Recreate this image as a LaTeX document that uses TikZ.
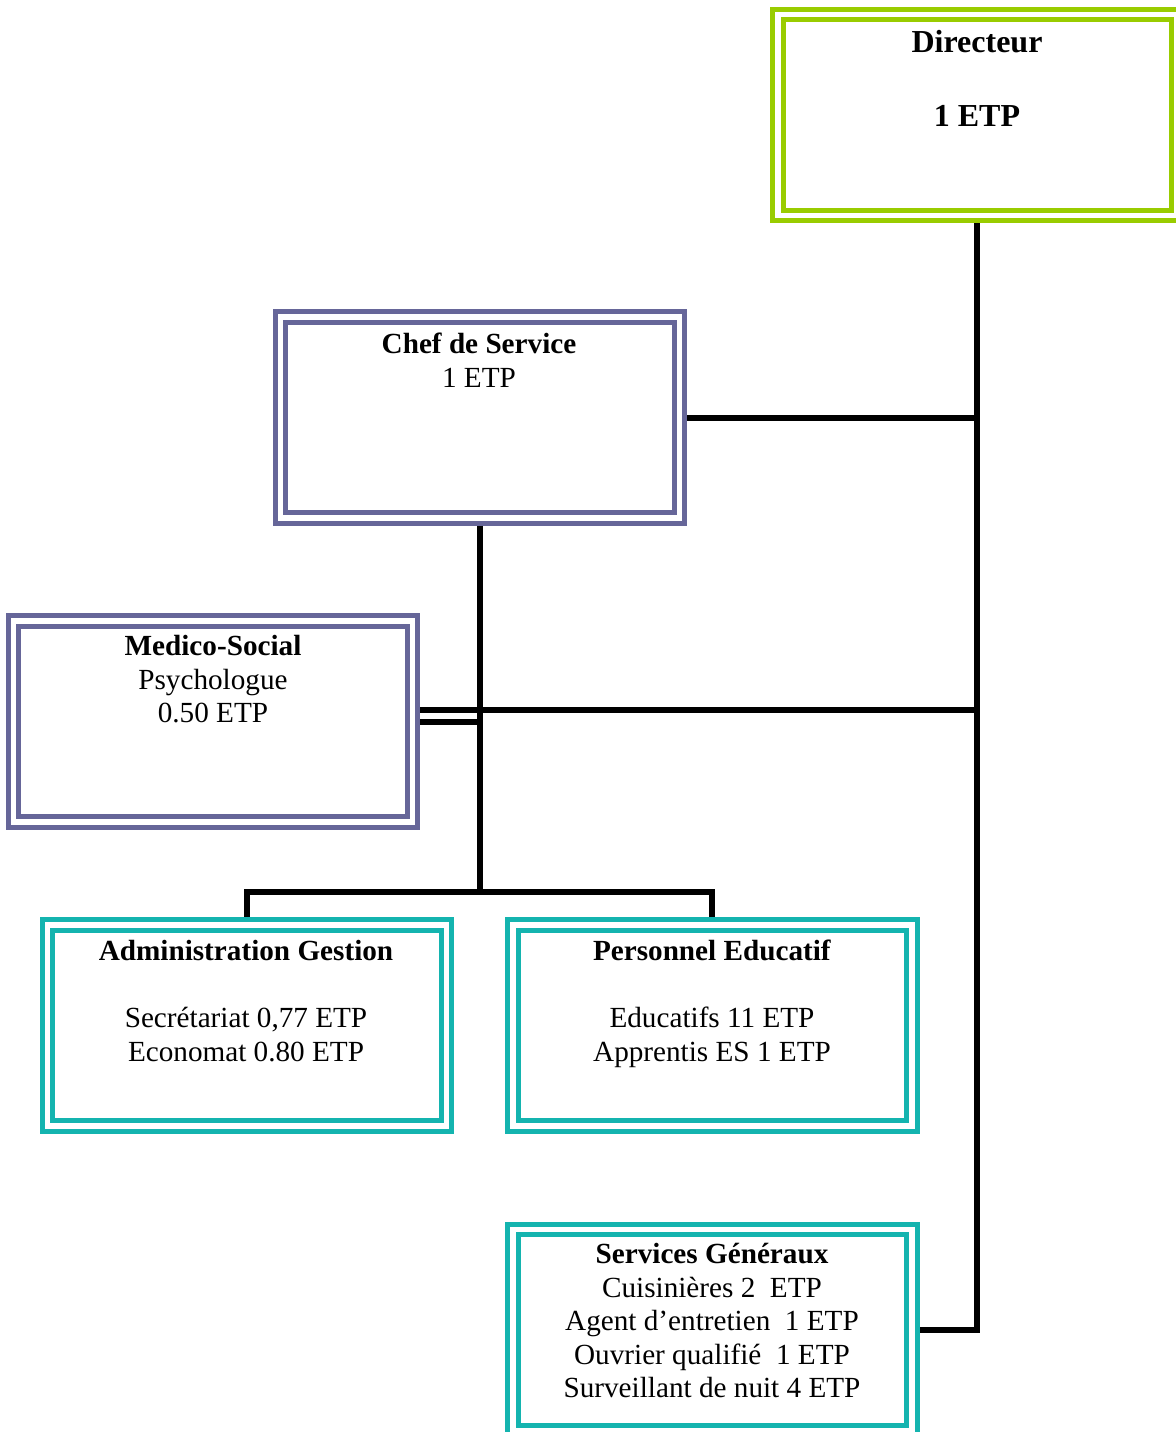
\documentclass[tikz,border=0pt]{standalone}
\usepackage{fontspec}
\setmainfont{Liberation Serif}
\definecolor{dirgreen}{RGB}{153,204,0}
\definecolor{chefpurple}{RGB}{102,102,153}
\definecolor{teal}{RGB}{20,180,175}
\begin{document}
\begin{tikzpicture}[x=0.5pt,y=-0.5pt,
  box/.style={draw, double=white, line width=2.5pt, double distance=2.75pt,
    minimum width=199.5pt, minimum height=100.5pt, inner sep=0pt, outer sep=3.9pt},
  txt/.style={align=center, inner sep=0pt, anchor=north,
    font=\fontsize{14.6}{16.75}\selectfont},
  conn/.style={draw=black, line width=3pt}]
\useasboundingbox (0,0) rectangle (1175,1432);

% boxes
\node[box, draw=dirgreen]   (dir)  at (977.25,114.75) {};
\node[box, draw=chefpurple] (chef) at (479.75,417.5) {};
\node[box, draw=chefpurple] (med)  at (213,721.5) {};
\node[box, draw=teal]       (adm)  at (246.75,1025.25) {};
\node[box, draw=teal]       (pers) at (712.25,1025.25) {};
\node[box, draw=teal]       (serv) at (712.25,1330) {};

% texts
\node[txt, font=\fontsize{16}{18.5}\selectfont\bfseries] (dirt) at (977,30)
  {Directeur\\[18.5pt]1 ETP};
\node[txt] (cheft) at (479,333) {\textbf{Chef de Service}\\1 ETP};
\node[txt] (medt) at (213,635) {\textbf{Medico-Social}\\Psychologue\\0.50 ETP};
\node[txt] (admt) at (246,940)
  {\textbf{Administration Gestion}\\[16.75pt]Secrétariat 0,77 ETP\\Economat 0.80 ETP};
\node[txt] (perst) at (712,940)
  {\textbf{Personnel Educatif}\\[16.75pt]Educatifs 11 ETP\\Apprentis ES 1 ETP};
\node[txt] (servt) at (712,1243)
  {\textbf{Services Généraux}\\Cuisinières 2\ \ ETP\\Agent d’entretien\ \ 1 ETP\\Ouvrier qualifié\ \ 1 ETP\\Surveillant de nuit 4 ETP};

% connectors
\coordinate (bar) at (480,892);
\draw[conn] (dir.south) -- (dir.south |- serv.east) -- (serv.east);
\draw[conn] (chef.east) -- (chef.east -| dir.south);
\draw[conn] ([yshift=6pt]med.east) -- ([yshift=6pt,xshift=-1.5pt]med.east -| dir.south);
\draw[conn] (med.east) -- ([xshift=-1.5pt]med.east -| chef.south);
\draw[conn] (chef.south) -- (chef.south |- bar);
\draw[conn] (adm.north) -- (adm.north |- bar) -- (pers.north |- bar) -- (pers.north);
\end{tikzpicture}
\end{document}
